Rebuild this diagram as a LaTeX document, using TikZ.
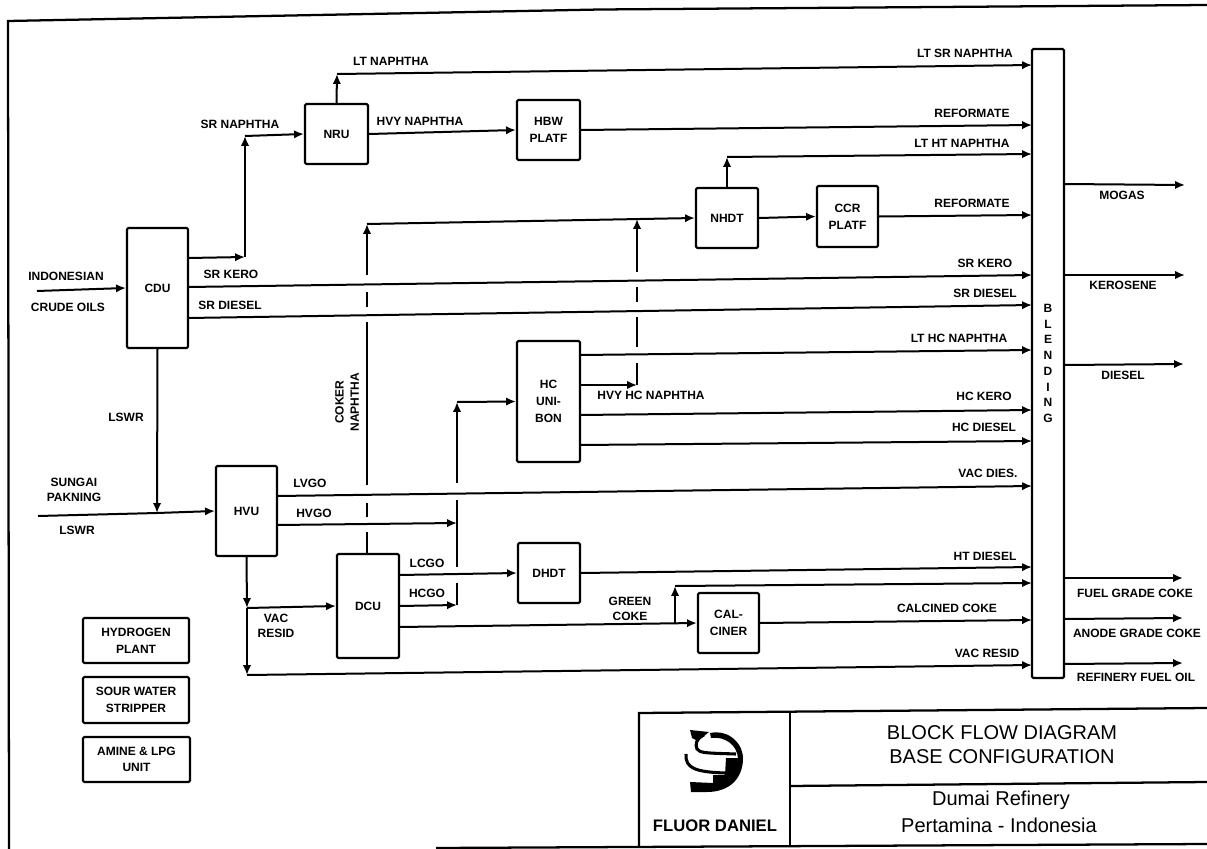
\documentclass[tikz,border=0pt]{standalone}
\usepackage{fontspec}
\setmainfont{Liberation Sans}
\usepackage{tikz}
\usetikzlibrary{arrows.meta}
\tikzset{
    unit/.style={rectangle,draw,line width=1.6pt,rounded corners=1pt,inner sep=1pt,align=center,font=\bfseries\fontsize{9}{12.5}\selectfont},
    lbl/.style={inner sep=0pt,align=center,font=\bfseries\fontsize{9}{11.5}\selectfont},
    ttl/.style={inner sep=0pt,font=\fontsize{15}{18}\selectfont},
    pipe/.style={line width=1.5pt},
    flow/.style={pipe,-{Latex[length=2.6mm,width=2.2mm]}},
    tblock/.style={line width=1.7pt},
}

\begin{document}
\begin{tikzpicture}[x=0.75pt,y=-0.75pt]
\useasboundingbox (0,0) rectangle (1207,849);

% process blocks
\node[unit,minimum width=45.75pt,minimum height=90pt]    (cdu)  at (157.5,288) {CDU};
\node[unit,minimum width=47.25pt,minimum height=45pt]    (nru)  at (336.5,134) {NRU};
\node[unit,minimum width=47.25pt,minimum height=45pt]    (hbw)  at (548.5,130) {HBW\\PLATF};
\node[unit,minimum width=46.5pt,minimum height=45pt]     (nhdt) at (727,218) {NHDT};
\node[unit,minimum width=45.75pt,minimum height=45.75pt] (ccr)  at (847.5,216.5) {CCR\\PLATF};
\node[unit,minimum width=47.25pt,minimum height=90.75pt] (hc)   at (548.5,401.5) {HC\\UNI-\\BON};
\node[unit,minimum width=45.75pt,minimum height=67.5pt]  (hvu)  at (246.5,511) {HVU};
\node[unit,minimum width=46.5pt,minimum height=78pt]     (dcu)  at (368,606) {DCU};
\node[unit,minimum width=46.5pt,minimum height=45pt]     (dhdt) at (549,573) {DHDT};
\node[unit,minimum width=45.75pt,minimum height=45pt]    (cal)  at (728.5,623) {CAL-\\CINER};
\node[unit,minimum width=24pt,minimum height=471.75pt,font=\bfseries\fontsize{9}{11.8}\selectfont] (blend) at (1048,363.5) {B\\L\\E\\N\\D\\I\\N\\G};
\node[unit,minimum width=79.5pt,minimum height=33.75pt]  (hyd)  at (136,640.5) {HYDROGEN\\PLANT};
\node[unit,minimum width=79.5pt,minimum height=34.5pt]   (sour) at (136,700) {SOUR WATER\\STRIPPER};
\node[unit,minimum width=80.25pt,minimum height=33.75pt] (amine) at (136.5,759.5) {AMINE \& LPG\\UNIT};

% free ends and junctions
\coordinate (crude)  at (37,291);
\coordinate (sungai) at (38,516);
\coordinate (cdun)   at (188,258);
\coordinate (cduk)   at (188,287);
\coordinate (cdud)   at (188,318);
\coordinate (srn1)   at (245,257);
\coordinate (srn2)   at (245,136);
\coordinate (ltn1)   at (337,74);
\coordinate (ltht1)  at (727,157);
\coordinate (lsw)    at (157,513);
\coordinate (hvul)   at (277,496);
\coordinate (hvuh)   at (277,525);
\coordinate (hvus)   at (247,608);
\coordinate (hvub)   at (247,675);
\coordinate (dcul)   at (399,575);
\coordinate (dcuh)   at (399,606);
\coordinate (dcuc)   at (399,627);
\coordinate (grn1)   at (675,623);
\coordinate (grn2)   at (675,586);
\coordinate (hcl)    at (580,355);
\coordinate (hcv)    at (580,385);
\coordinate (hck)    at (580,415);
\coordinate (hcd)    at (580,445);
% coker naphtha line
\coordinate (cn1) at (367,275);
\coordinate (cn2) at (367,292);
\coordinate (cn3) at (367,307);
\coordinate (cn4) at (367,322);
\coordinate (cn5) at (367,485);
\coordinate (cn6) at (367,503);
\coordinate (cn7) at (367,517);
\coordinate (cn8) at (367,532);
\coordinate (cnb) at (367,554);
\coordinate (cnt) at (367,224);
% heavy hc naphtha line
\coordinate (hv1) at (637,385);
\coordinate (hv2) at (637,363);
\coordinate (hv3) at (637,347);
\coordinate (hv4) at (637,317);
\coordinate (hv5) at (637,302);
\coordinate (hv6) at (637,287);
\coordinate (hv7) at (637,272);
\coordinate (hv8) at (637,219);
% gas oil line
\coordinate (go1) at (457,605);
\coordinate (go2) at (457,583);
\coordinate (go3) at (457,567);
\coordinate (go4) at (457,500);
\coordinate (go5) at (457,483);
\coordinate (go6) at (457,402);
\coordinate (goh) at (457,523);
% blending inlets
\coordinate (in1)  at (1032,65);
\coordinate (in2)  at (1032,125);
\coordinate (in3)  at (1032,154);
\coordinate (in4)  at (1032,215);
\coordinate (in5)  at (1032,275);
\coordinate (in6)  at (1032,305);
\coordinate (in7)  at (1032,350);
\coordinate (in8)  at (1032,410);
\coordinate (in9)  at (1032,441);
\coordinate (in10) at (1032,486);
\coordinate (in11) at (1032,567);
\coordinate (in12) at (1032,583);
\coordinate (in13) at (1032,620);
\coordinate (in14) at (1032,665);
% blending outlets
\coordinate (ou1) at (1064,184);
\coordinate (ou2) at (1064,275);
\coordinate (ou3) at (1064,365);
\coordinate (ou4) at (1064,578);
\coordinate (ou5) at (1064,619);
\coordinate (ou6) at (1064,664);
\coordinate (oe1) at (1185,185);
\coordinate (oe2) at (1185,275);
\coordinate (oe3) at (1184,364);
\coordinate (oe4) at (1183,578);
\coordinate (oe5) at (1183,618);
\coordinate (oe6) at (1183,663);

% feeds
\draw[flow] (crude) -- (cdu.west);
\draw[pipe] (sungai) -- (lsw);
\draw[flow] (lsw) -- (hvu.west);
\draw[flow] (cdu.south) -- (lsw);
% naphtha section
\draw[flow] (cdun) -- (srn1);
\draw[flow] (srn1) -- (srn2);
\draw[flow] (srn2) -- (nru.west);
\draw[flow] (nru.north) -- (ltn1);
\draw[flow] (ltn1) -- (in1);
\draw[flow] (nru.east) -- (hbw.west);
\draw[flow] (hbw.east) -- (in2);
\draw[flow] (nhdt.north) -- (ltht1);
\draw[flow] (ltht1) -- (in3);
\draw[flow] (nhdt.east) -- (ccr.west);
\draw[flow] (ccr.east) -- (in4);
\draw[flow] (cnt) -- (nhdt.west);
\draw[flow] (cduk) -- (in5);
\draw[flow] (cdud) -- (in6);
% coker naphtha
\draw[pipe] (cnb) -- (cn8);
\draw[pipe] (cn7) -- (cn6);
\draw[pipe] (cn5) -- (cn4);
\draw[pipe] (cn3) -- (cn2);
\draw[flow] (cn1) -- (cnt);
% hydrocracker
\draw[flow] (hcl) -- (in7);
\draw[flow] (hcv) -- (hv1);
\draw[pipe] (hv1) -- (hv2);
\draw[pipe] (hv3) -- (hv4);
\draw[pipe] (hv5) -- (hv6);
\draw[flow] (hv7) -- (hv8);
\draw[flow] (hck) -- (in8);
\draw[flow] (hcd) -- (in9);
% gas oils
\draw[flow] (hvul) -- (in10);
\draw[flow] (hvuh) -- (goh);
\draw[flow] (dcuh) -- (go1);
\draw[pipe] (go1) -- (go2);
\draw[pipe] (go3) -- (go4);
\draw[flow] (go5) -- (go6);
\draw[flow] (go6) -- (hc.west);
\draw[flow] (dcul) -- (dhdt.west);
\draw[flow] (dhdt.east) -- (in11);
% residue and coke
\draw[flow] (hvu.south) -- (hvus);
\draw[flow] (hvus) -- (hvub);
\draw[flow] (hvus) -- (dcu.west);
\draw[flow] (hvub) -- (in14);
\draw[flow] (dcuc) -- (cal.west);
\draw[flow] (grn1) -- (grn2);
\draw[flow] (grn2) -- (in12);
\draw[flow] (cal.east) -- (in13);
% products
\draw[flow] (ou1) -- (oe1);
\draw[flow] (ou2) -- (oe2);
\draw[flow] (ou3) -- (oe3);
\draw[flow] (ou4) -- (oe4);
\draw[flow] (ou5) -- (oe5);
\draw[flow] (ou6) -- (oe6);

% stream labels
\node[lbl] (tindo) at (66,276)   {INDONESIAN};
\node[lbl] (tcrud) at (68,307)   {CRUDE OILS};
\node[lbl] (tsun)  at (74,490)   {SUNGAI\\PAKNING};
\node[lbl] (tlsw1) at (77,530)   {LSWR};
\node[lbl] (tlsw2) at (126,417)  {LSWR};
\node[lbl] (tsrn)  at (240,124)  {SR NAPHTHA};
\node[lbl] (tsrk)  at (231,274)  {SR KERO};
\node[lbl] (tsrd)  at (230,305)  {SR DIESEL};
\node[lbl] (tltn)  at (391,61)   {LT NAPHTHA};
\node[lbl] (thvn)  at (420,121)  {HVY NAPHTHA};
\node[lbl,rotate=90] (tcok) at (347,402) {COKER\\NAPHTHA};
\node[lbl] (thvh)  at (651,395)  {HVY HC NAPHTHA};
\node[lbl] (tlvg)  at (310,483)  {LVGO};
\node[lbl] (thvg)  at (314,513)  {HVGO};
\node[lbl] (tlcg)  at (427,563)  {LCGO};
\node[lbl] (thcg)  at (427,593)  {HCGO};
\node[lbl] (tvac)  at (276,626)  {VAC\\RESID};
\node[lbl] (tgrn)  at (630,609)  {GREEN\\COKE};
\node[lbl] (i1)  at (965,53)   {LT SR NAPHTHA};
\node[lbl] (i2)  at (972,113)  {REFORMATE};
\node[lbl] (i3)  at (962,143)  {LT HT NAPHTHA};
\node[lbl] (i4)  at (972,203)  {REFORMATE};
\node[lbl] (i5)  at (985,263)  {SR KERO};
\node[lbl] (i6)  at (985,293)  {SR DIESEL};
\node[lbl] (i7)  at (959,338)  {LT HC NAPHTHA};
\node[lbl] (i8)  at (984,396)  {HC KERO};
\node[lbl] (i9)  at (984,427)  {HC DIESEL};
\node[lbl] (i10) at (988,473)  {VAC DIES.};
\node[lbl] (i11) at (985,556)  {HT DIESEL};
\node[lbl] (i12) at (947,608)  {CALCINED COKE};
\node[lbl] (i13) at (987,653)  {VAC RESID};
\node[lbl] (o1)  at (1122,195) {MOGAS};
\node[lbl] (o2)  at (1123,285) {KEROSENE};
\node[lbl] (o3)  at (1123,375) {DIESEL};
\node[lbl] (o4)  at (1135,593) {FUEL GRADE COKE};
\node[lbl] (o5)  at (1137,633) {ANODE GRADE COKE};
\node[lbl] (o6)  at (1136,677) {REFINERY FUEL OIL};

% sheet frame and title block
\draw[tblock] (1207,5) -- (600,9.5) -- (8,21) -- (9,849);
\draw[tblock] (436,848) -- (1207,844);
\draw[tblock] (1207,708) -- (639,713) -- (639,847);
\draw[tblock] (790,711) -- (790,846);
\draw[tblock] (790,786) -- (1207,782);
\node[ttl] (t1) at (1002,733) {BLOCK FLOW DIAGRAM};
\node[ttl] (t2) at (1002,757) {BASE CONFIGURATION};
\node[ttl] (t3) at (1001,800) {Dumai Refinery};
\node[ttl] (t4) at (999,825)  {Pertamina - Indonesia};
\node[inner sep=0pt,font=\bfseries\fontsize{12.5}{15}\selectfont] (tfd) at (715,826) {FLUOR DANIEL};

% logo
\fill (710,733) .. controls (730,729) and (744,745) .. (743,760) .. controls (742,780) and (728,792) .. (707,792) -- (691,792) -- (690,782) -- (713,783) -- (713,775) -- (725,775) -- (726,758) -- (738,758) .. controls (737,745) and (725,736) .. (711,738) -- cycle;
\fill (690,730) -- (709,732) -- (698,741) -- (692,738) -- cycle;
\draw[line width=2.3pt] (704,735) .. controls (696,738) and (695,745) .. (697,749) .. controls (700,753) and (705,753) .. (736,754);
\draw[line width=2.3pt] (686,754) .. controls (685,768) and (695,772) .. (725,773);
\end{tikzpicture}
\end{document}
